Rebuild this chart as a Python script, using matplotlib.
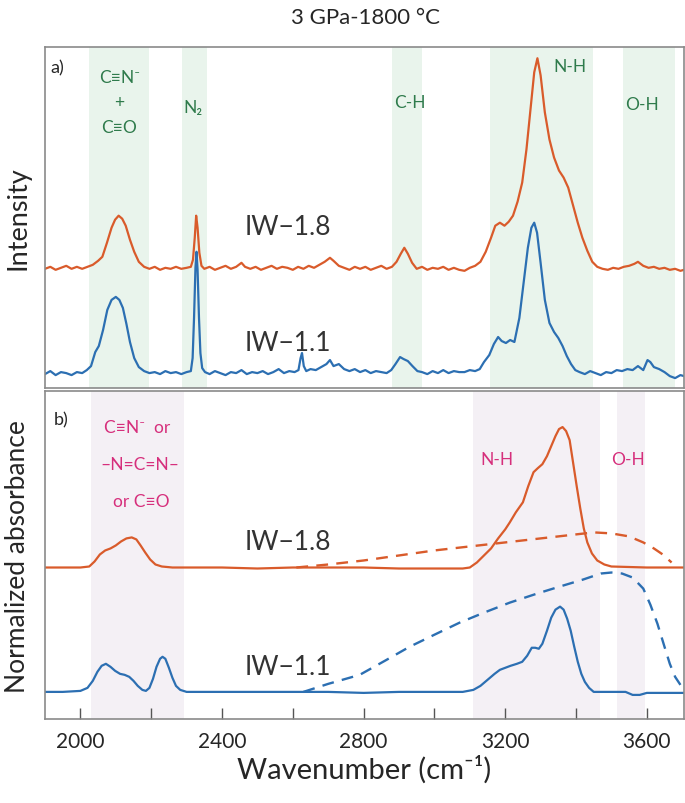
import matplotlib
matplotlib.use("Agg")
import matplotlib.pyplot as plt
from matplotlib.ticker import MultipleLocator

plt.rcParams['font.family'] = ['Lato', 'DejaVu Sans']

# ---- Raman (panel a), arbitrary intensity, traces already offset ----
raman18_wn = [1900, 1915, 1930, 1945, 1960, 1975, 1990, 2005, 2020, 2035, 2050, 2062, 2075, 2088, 2098, 2108,
              2118, 2128, 2140, 2152, 2165, 2180, 2195, 2210, 2225, 2240, 2255, 2270, 2285, 2300, 2312, 2318,
              2323, 2327, 2331, 2336, 2342, 2350, 2365, 2380, 2395, 2410, 2425, 2440, 2455, 2465, 2480, 2495,
              2510, 2525, 2540, 2555, 2570, 2585, 2600, 2615, 2630, 2645, 2660, 2675, 2690, 2705, 2715, 2730,
              2745, 2760, 2775, 2790, 2805, 2820, 2835, 2850, 2865, 2880, 2893, 2905, 2915, 2925, 2937, 2950,
              2965, 2980, 2995, 3010, 3025, 3040, 3055, 3070, 3085, 3100, 3115, 3130, 3145, 3160, 3172, 3185,
              3198, 3210, 3222, 3235, 3248, 3260, 3272, 3282, 3291, 3300, 3312, 3325, 3338, 3352, 3365, 3378,
              3392, 3405, 3418, 3432, 3446, 3460, 3475, 3490, 3505, 3520, 3535, 3550, 3565, 3575, 3590, 3605,
              3620, 3635, 3650, 3665, 3680, 3695, 3705]
raman18_int = [119, 121, 118, 120, 122, 119, 121, 119, 121, 123, 127, 131, 145, 160, 168, 172,
               169, 162, 148, 136, 126, 121, 119, 121, 118, 120, 119, 121, 119, 120, 121, 128,
               150, 172, 160, 135, 122, 119, 121, 118, 120, 122, 119, 121, 125, 121, 119, 121,
               118, 120, 122, 119, 121, 120, 118, 121, 119, 122, 120, 123, 126, 130, 127, 122,
               120, 118, 121, 119, 121, 118, 120, 122, 119, 121, 126, 134, 140, 134, 125, 119,
               121, 118, 120, 119, 121, 118, 120, 118, 117, 120, 122, 126, 136, 150, 162, 165,
               162, 166, 172, 186, 205, 238, 280, 315, 329, 312, 275, 248, 230, 217, 210, 200,
               182, 165, 150, 137, 126, 121, 119, 118, 120, 119, 121, 122, 124, 126, 122, 120,
               121, 119, 120, 118, 119, 117, 118]

raman11_wn = [1900, 1915, 1930, 1945, 1960, 1975, 1990, 2005, 2018, 2030, 2042, 2052, 2064, 2076, 2088, 2100,
              2110, 2120, 2130, 2140, 2152, 2165, 2180, 2195, 2210, 2225, 2240, 2255, 2270, 2285, 2300, 2312,
              2317, 2321, 2325, 2328, 2331, 2335, 2339, 2344, 2352, 2365, 2380, 2395, 2410, 2425, 2440, 2455,
              2470, 2485, 2500, 2515, 2530, 2545, 2560, 2575, 2590, 2605, 2616, 2622, 2626, 2631, 2638, 2650,
              2665, 2680, 2695, 2705, 2715, 2730, 2745, 2760, 2775, 2790, 2805, 2820, 2835, 2850, 2865, 2878,
              2890, 2903, 2913, 2925, 2938, 2952, 2965, 2980, 2995, 3010, 3025, 3040, 3055, 3070, 3085, 3100,
              3115, 3128, 3140, 3155, 3168, 3180, 3190, 3202, 3214, 3226, 3240, 3252, 3264, 3274, 3282, 3290,
              3300, 3312, 3325, 3338, 3350, 3362, 3374, 3386, 3398, 3410, 3425, 3440, 3455, 3470, 3485, 3500,
              3515, 3530, 3545, 3560, 3575, 3590, 3602, 3610, 3620, 3635, 3650, 3665, 3680, 3695, 3705]
raman11_int = [14, 17, 13, 16, 15, 13, 16, 15, 18, 22, 36, 42, 58, 78, 88, 91,
               88, 80, 64, 46, 30, 21, 17, 15, 16, 14, 17, 15, 16, 14, 16, 17,
               30, 70, 120, 136, 118, 70, 35, 20, 16, 14, 17, 15, 13, 16, 15, 18,
               14, 16, 15, 17, 14, 16, 19, 15, 17, 16, 18, 30, 35, 22, 17, 19,
               18, 21, 24, 28, 22, 24, 19, 17, 19, 16, 18, 15, 17, 16, 15, 18,
               24, 31, 29, 27, 22, 17, 16, 14, 17, 15, 18, 15, 17, 16, 16, 18,
               17, 19, 26, 33, 44, 51, 47, 45, 48, 46, 70, 105, 140, 160, 165, 155,
               125, 88, 65, 56, 50, 42, 32, 24, 18, 16, 14, 17, 15, 13, 16, 15,
               18, 17, 19, 18, 22, 18, 28, 26, 21, 19, 16, 12, 10, 13, 12]

# ---- FTIR (panel b), normalized absorbance, offset ----
ftir18_wn = [1900, 1950, 2000, 2025, 2040, 2055, 2070, 2085, 2100, 2115, 2130, 2145, 2158, 2170, 2183, 2197,
             2212, 2230, 2260, 2300, 2400, 2500, 2600, 2700, 2800, 2900, 3000, 3080, 3100, 3120, 3140, 3160,
             3180, 3200, 3213, 3230, 3250, 3265, 3280, 3292, 3305, 3318, 3330, 3342, 3352, 3362, 3372, 3382,
             3392, 3402, 3412, 3422, 3432, 3445, 3460, 3480, 3500, 3600, 3705]
ftir18_abs = [151, 151, 151, 152, 157, 164, 168, 170, 173, 177, 180, 181, 179, 173, 166, 159,
              154, 152, 151, 151, 151, 150, 151, 151, 151, 150, 150, 150, 151, 156, 163, 170,
              180, 189, 196, 206, 216, 232, 246, 250, 254, 262, 272, 282, 289, 291, 287, 278,
              255, 232, 210, 190, 176, 165, 158, 154, 152, 151, 151]

ftir11_wn = [1900, 1950, 2000, 2020, 2035, 2048, 2060, 2072, 2085, 2098, 2112, 2125, 2138, 2150, 2162, 2175,
             2185, 2195, 2205, 2215, 2225, 2232, 2240, 2250, 2260, 2270, 2282, 2300, 2400, 2500, 2600, 2700,
             2800, 2900, 3000, 3080, 3110, 3130, 3150, 3170, 3185, 3200, 3215, 3233, 3248, 3262, 3275, 3285,
             3295, 3305, 3318, 3330, 3342, 3355, 3365, 3375, 3385, 3395, 3405, 3415, 3425, 3437, 3450, 3500,
             3540, 3560, 3580, 3600, 3640, 3705]
ftir11_abs = [27, 27, 28, 31, 38, 47, 53, 55, 52, 48, 45, 44, 42, 38, 33, 29,
              28, 31, 40, 52, 60, 62, 60, 51, 41, 33, 29, 27, 27, 27, 27, 27,
              26, 27, 27, 27, 29, 33, 39, 45, 49, 51, 53, 55, 57, 63, 71, 71,
              70, 75, 88, 101, 109, 112, 109, 100, 88, 72, 57, 45, 37, 31, 27, 27,
              27, 24, 24, 26, 26, 26]

base18_wn = [2610, 2700, 2800, 2900, 3000, 3100, 3200, 3300, 3400, 3450, 3500, 3550, 3590, 3620, 3645, 3670]
base18_abs = [151, 154, 158, 163, 168, 172, 176, 180, 184, 186, 185, 182, 176, 170, 164, 156]

base11_wn = [2630, 2700, 2789, 2860, 2930, 3000, 3071, 3140, 3213, 3290, 3354, 3420, 3470, 3500, 3530, 3560,
             3590, 3610, 3630, 3650, 3665, 3680, 3695]
base11_abs = [27, 35, 44, 58, 72, 84, 96, 106, 116, 125, 132, 139, 145, 146, 145, 141,
              130, 114, 95, 72, 55, 42, 34]

# shaded assignment bands (cm-1)
raman_bands = [(2025, 2195), (2286, 2359), (2879, 2964), (3156, 3447), (3532, 3679)]
ftir_bands = [(2031, 2294), (3108, 3467), (3515, 3594)]

orange = '#d95b2b'
blue = '#2c6fb2'
green_txt = '#2f7b4c'
pink_txt = '#d62f7c'
frame = '#8a8a8a'
dark = '#262626'

fig = plt.figure(figsize=(6.85, 8.04), dpi=100)
ax1 = fig.add_axes([0.0657, 0.516, 0.9328, 0.424])
ax2 = fig.add_axes([0.0657, 0.1045, 0.9328, 0.408])

for lo, hi in raman_bands:
    ax1.axvspan(lo, hi, color='#e9f4ec', lw=0, zorder=0)
for lo, hi in ftir_bands:
    ax2.axvspan(lo, hi, color='#f4f0f5', lw=0, zorder=0)

ax1.plot(raman18_wn, raman18_int, color=orange, lw=1.6)
ax1.plot(raman11_wn, raman11_int, color=blue, lw=1.6)
ax2.plot(ftir18_wn, ftir18_abs, color=orange, lw=1.6)
ax2.plot(ftir11_wn, ftir11_abs, color=blue, lw=1.6)
ax2.plot(base18_wn, base18_abs, color=orange, lw=1.7, ls=(0, (5, 3.5)))
ax2.plot(base11_wn, base11_abs, color=blue, lw=1.7, ls=(0, (5, 3.5)))

ax1.set_xlim(1900, 3705)
ax2.set_xlim(1900, 3705)
ax1.set_ylim(0, 340)
ax2.set_ylim(0, 327)

for ax in (ax1, ax2):
    for s in ax.spines.values():
        s.set_color(frame)
        s.set_linewidth(1.2)
    ax.set_yticks([])

ax1.set_xticks([])
ax2.xaxis.set_major_locator(MultipleLocator(400))
ax2.xaxis.set_minor_locator(MultipleLocator(200))
ax2.tick_params(axis='x', which='both', direction='in', length=8, color='#555555', width=1)
ax2.tick_params(axis='x', which='major', labelsize=15, pad=9, labelcolor=dark)
ax2.set_xlabel('Wavenumber (cm⁻¹)', fontsize=21, color=dark, labelpad=2)

fig.text(0.026, 0.729, 'Intensity', rotation=90, fontsize=19.5, ha='center', va='center', color=dark)
fig.text(0.026, 0.308, 'Normalized absorbance', rotation=90, fontsize=19, ha='center', va='center',
         color=dark)
fig.text(0.533, 0.977, '3 GPa-1800 °C', fontsize=16, ha='center', va='center', color=dark)

# panel a annotations
ax1.text(1935, 320, 'a)', fontsize=13, ha='center', va='center', color=dark)
ax1.text(2110, 310, 'C≡N⁻', fontsize=12.5, ha='center', va='center', color=green_txt)
ax1.text(2110, 285, '+', fontsize=12.5, ha='center', va='center', color=green_txt)
ax1.text(2110, 260, 'C≡O', fontsize=12.5, ha='center', va='center', color=green_txt)
ax1.text(2317, 280, 'N₂', fontsize=12.5, ha='center', va='center', color=green_txt)
ax1.text(2930, 285, 'C-H', fontsize=12.5, ha='center', va='center', color=green_txt)
ax1.text(3382, 321, 'N-H', fontsize=12.5, ha='center', va='center', color=green_txt)
ax1.text(3586, 283, 'O-H', fontsize=12.5, ha='center', va='center', color=green_txt)
ax1.text(2585, 161, 'IW−1.8', fontsize=19, ha='center', va='center', color='#333333')
ax1.text(2585, 46, 'IW−1.1', fontsize=19, ha='center', va='center', color='#333333')

# panel b annotations
ax2.text(1946, 299, 'b)', fontsize=13, ha='center', va='center', color=dark)
ax2.text(2161, 291, 'C≡N⁻  or', fontsize=12.5, ha='center', va='center', color=pink_txt)
ax2.text(2167, 254, '–N=C=N–', fontsize=12.5, ha='center', va='center', color=pink_txt)
ax2.text(2172, 217, 'or C≡O', fontsize=12.5, ha='center', va='center', color=pink_txt)
ax2.text(3176, 259, 'N-H', fontsize=12.5, ha='center', va='center', color=pink_txt)
ax2.text(3546, 259, 'O-H', fontsize=12.5, ha='center', va='center', color=pink_txt)
ax2.text(2585, 177, 'IW−1.8', fontsize=19, ha='center', va='center', color='#333333')
ax2.text(2585, 52, 'IW−1.1', fontsize=19, ha='center', va='center', color='#333333')

fig.savefig('out.png', dpi=100)
